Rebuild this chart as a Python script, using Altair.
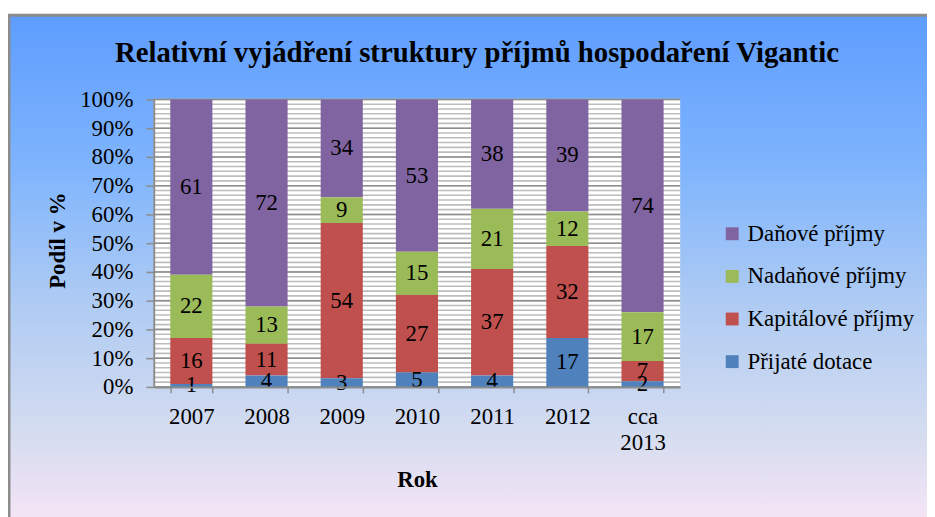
import altair as alt
import pandas as pd

# ---- data ----
years = ["2007", "2008", "2009", "2010", "2011", "2012", "cca 2013"]
series = ["Daňové příjmy", "Nadaňové příjmy", "Kapitálové příjmy", "Přijaté dotace"]
colors = ["#8064A2", "#9BBB59", "#C0504D", "#4F81BD"]
danove = [61, 72, 34, 53, 38, 39, 74]
nadanove = [22, 13, 9, 15, 21, 12, 17]
kapitalove = [16, 11, 54, 27, 37, 32, 7]
dotace = [1, 4, 3, 5, 4, 17, 2]
stack_rank = [3, 2, 1, 0]          # Přijaté dotace at the bottom
y_ticks = [0, 0.1, 0.2, 0.3, 0.4, 0.5, 0.6, 0.7, 0.8, 0.9, 1.0]
title_text = "Relativní vyjádření struktury příjmů hospodaření Vigantic"

values_by_series = [danove, nadanove, kapitalove, dotace]
rows = []
for s, vals, rk in zip(series, values_by_series, stack_rank):
    for y, v in zip(years, vals):
        rows.append({"year": y, "series": s, "value": v, "rank": rk})
df = pd.DataFrame(rows)

W, H = 531, 290
FONT = "Liberation Serif"

yscale = alt.Scale(domain=[0, 1], nice=False, zero=True)
xscale = alt.Scale(paddingInner=0.44, paddingOuter=0.22)

yaxis = alt.Axis(title="Podíl v %", values=y_ticks, format=".0%", grid=False,
                 labelFontSize=23, labelPadding=13, tickSize=8,
                 titleX=-97, titleY=142, titleAngle=-90, titleAlign="center",
                 titleBaseline="middle", zindex=2)
xaxis = alt.Axis(title="Rok", labelAngle=0, labelExpr="split(datum.label, ' ')",
                 tickBand="extent", labelFontSize=23, labelPadding=13,
                 labelLineHeight=26, tickSize=6, titleX=265.5, titleY=100,
                 titleBaseline="alphabetic", titleAlign="center", zindex=2)

gradient = alt.Gradient(
    gradient="linear",
    stops=[
        alt.GradientStop(offset=0, color="#5E9DFF"),
        alt.GradientStop(offset=0.3, color="#80B5FD"),
        alt.GradientStop(offset=0.55, color="#AECBF3"),
        alt.GradientStop(offset=0.8, color="#D4DCF0"),
        alt.GradientStop(offset=1, color="#FBE6F6"),
    ],
    x1=0, x2=0, y1=0, y2=1,
)

one = alt.Data(values=[{"t": title_text}])

frame = alt.Chart(one).mark_rect(fill=gradient, stroke="#8C8C8C", strokeWidth=3).encode(
    x=alt.value(-146), x2=alt.value(800), y=alt.value(-85), y2=alt.value(440)
)

title = alt.Chart(one).mark_text(font=FONT, fontSize=29, fontWeight="bold", color="black",
                                 baseline="alphabetic", align="center").encode(
    x=alt.value(326), y=alt.value(-38), text="t:N"
)

plot_bg = alt.Chart(one).mark_rect(fill="white").encode(
    x=alt.value(0), x2=alt.value(W), y=alt.value(0), y2=alt.value(H)
)

hatch = alt.Chart(alt.sequence(0, 1.0001, 1 / 60, as_="h")).mark_rule(
    color="#BDBDBD", strokeWidth=1.6
).encode(y=alt.Y("h:Q", scale=yscale, axis=yaxis))

major = alt.Chart(alt.sequence(0, 1.0001, 0.1, as_="g")).mark_rule(
    color="#8E8E8E", strokeWidth=1.5
).encode(y=alt.Y("g:Q", scale=yscale, axis=yaxis))

base = alt.Chart(df).transform_stack(
    stack="value", groupby=["year"], sort=[alt.SortField("rank", order="ascending")],
    as_=["v0", "v1"], offset="normalize"
).transform_calculate(mid="(datum.v0 + datum.v1) / 2")

bars = base.mark_bar().encode(
    x=alt.X("year:N", sort=years, scale=xscale, axis=xaxis),
    y=alt.Y("v0:Q", scale=yscale, axis=yaxis),
    y2="v1:Q",
    color=alt.Color("series:N", scale=alt.Scale(domain=series, range=colors),
                    legend=alt.Legend(title=None, orient="none", legendX=572, legendY=124,
                                      symbolType="square", symbolSize=169,
                                      symbolStrokeWidth=0, labelFontSize=23,
                                      labelFont=FONT, labelLimit=400,
                                      labelOffset=4, rowPadding=19, padding=0)),
)

labels = base.mark_text(fontSize=23, color="black", baseline="middle", font=FONT).encode(
    x=alt.X("year:N", sort=years, scale=xscale, axis=xaxis),
    y=alt.Y("mid:Q", scale=yscale, axis=yaxis),
    text="value:Q",
)

chart = alt.layer(frame, title, plot_bg, hatch, major, bars, labels).properties(
    width=W, height=H,
    autosize=alt.AutoSizeParams(type="none"),
    padding={"left": 147, "top": 90, "right": 249, "bottom": 129},
).configure(
    font=FONT,
).configure_view(stroke=None).configure_axis(
    domainColor="#8C8C8C", domainWidth=2, tickColor="#8C8C8C", tickWidth=1.5,
    labelFont=FONT, titleFont=FONT,
    labelColor="black", titleFontSize=23, titleFontWeight="bold", titleColor="black",
).configure_legend(labelColor="black", labelFont=FONT)

chart.save("out.html", embed_options={"renderer": "svg", "actions": False})
